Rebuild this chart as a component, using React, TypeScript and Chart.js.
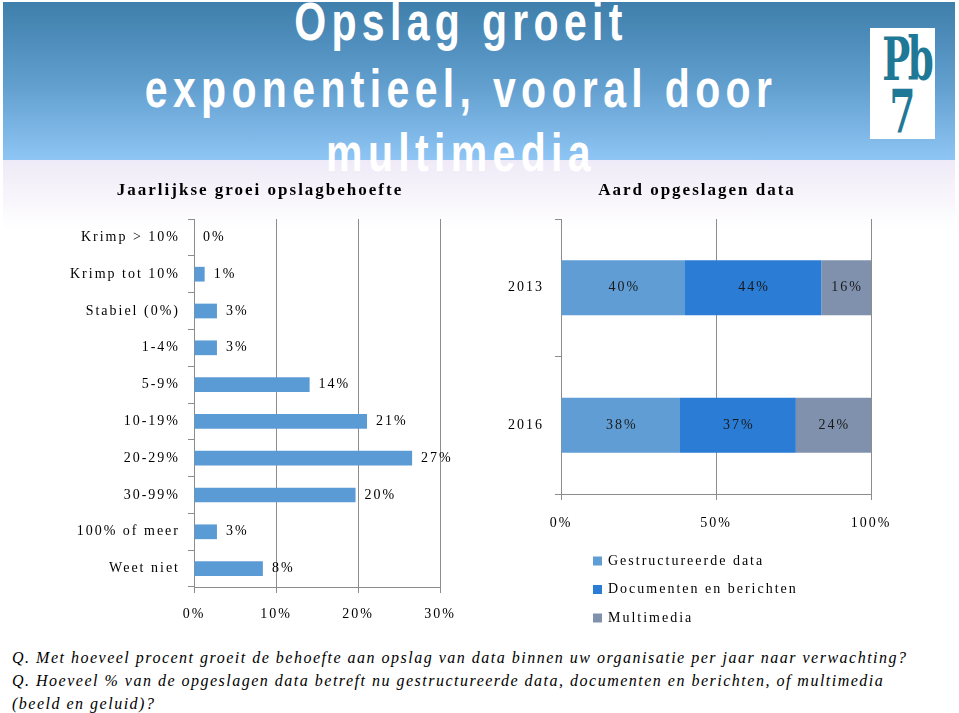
import React, { useEffect, useRef } from "react";
import { Chart, registerables } from "chart.js";

Chart.register(...registerables);

// ---------- Data: Jaarlijkse groei opslagbehoefte ----------
const growthCategories = [
  "Krimp > 10%",
  "Krimp tot 10%",
  "Stabiel (0%)",
  "1-4%",
  "5-9%",
  "10-19%",
  "20-29%",
  "30-99%",
  "100% of meer",
  "Weet niet",
];
const growthValues = [0, 1.3, 2.8, 2.8, 14.1, 21.1, 26.6, 19.7, 2.8, 8.4];
const growthTicks = [0, 10, 20, 30];

// ---------- Data: Aard opgeslagen data ----------
const dataYears = ["2013", "2016"];
const structuredData = [40, 38];
const documentsData = [44, 37];
const multimediaData = [16, 24];
const seriesNames = ["Gestructureerde data", "Documenten en berichten", "Multimedia"];
const shareTicks = [0, 50, 100];

const SERIF = "'Liberation Serif', 'Times New Roman', serif";
const SANS = "'Liberation Sans', Arial, sans-serif";
const GRID = "#8c8c8c";
const SERIES_COLORS = ["#5f9dd4", "#2a7cd4", "#8091ad"];

const rawSeries = [structuredData, documentsData, multimediaData];
const yearTotals = dataYears.map((_, i) => rawSeries.reduce((s, arr) => s + arr[i], 0));
const toShare = (arr: number[]) => arr.map((v, i) => (v / yearTotals[i]) * 100);

const spacingPlugin = {
  id: "spacing",
  beforeUpdate(chart: any) {
    chart.ctx.letterSpacing = "2px";
  },
  beforeDraw(chart: any) {
    chart.ctx.letterSpacing = "2px";
  },
};

// centre the title over the whole canvas (not the padded area)
const titleCenterPlugin = {
  id: "titleCenter",
  afterLayout(chart: any) {
    const tb = chart.titleBlock;
    if (tb) {
      tb.left = 0;
      tb.right = chart.width;
      tb.width = chart.width;
    }
  },
};

const endLabelPlugin = {
  id: "endLabels",
  afterDatasetsDraw(chart: any) {
    const ctx = chart.ctx;
    ctx.save();
    ctx.font = `14px ${SERIF}`;
    ctx.fillStyle = "#000";
    ctx.textAlign = "left";
    ctx.textBaseline = "middle";
    const ds = chart.data.datasets[0];
    chart.getDatasetMeta(0).data.forEach((bar: any, i: number) => {
      ctx.fillText(Math.round(ds.data[i]) + "%", bar.x + 9, bar.y);
    });
    ctx.restore();
  },
};

const centerLabelPlugin = {
  id: "centerLabels",
  afterDatasetsDraw(chart: any) {
    const ctx = chart.ctx;
    ctx.save();
    ctx.font = `14px ${SERIF}`;
    ctx.fillStyle = "#1a1a1a";
    ctx.textAlign = "center";
    ctx.textBaseline = "middle";
    chart.data.datasets.forEach((ds: any, di: number) => {
      chart.getDatasetMeta(di).data.forEach((bar: any, i: number) => {
        ctx.fillText(ds.rawValues[i] + "%", (bar.x + bar.base) / 2 + 1, bar.y);
      });
    });
    ctx.restore();
  },
};

const listLegendPlugin = {
  id: "listLegend",
  afterDraw(chart: any) {
    const { ctx, chartArea } = chart;
    ctx.save();
    ctx.font = `14px ${SERIF}`;
    ctx.textAlign = "left";
    ctx.textBaseline = "middle";
    chart.data.datasets.forEach((ds: any, i: number) => {
      const x = chartArea.left + 32;
      const y = chartArea.bottom + 67 + i * 28.5;
      ctx.fillStyle = ds.backgroundColor;
      ctx.fillRect(x, y - 4.5, 9, 9);
      ctx.fillStyle = "#000";
      ctx.fillText(ds.label, x + 15, y);
    });
    ctx.restore();
  },
};

const tickFont = { family: SERIF, size: 14 };
const titleFont = { family: SERIF, size: 17, weight: "bold" as const };

function leftConfig(): any {
  return {
    type: "bar",
    data: {
      labels: growthCategories,
      datasets: [
        {
          data: growthValues,
          backgroundColor: "#5b9bd5",
          categoryPercentage: 1,
          barPercentage: 0.4,
        },
      ],
    },
    options: {
      indexAxis: "y",
      responsive: false,
      animation: false,
      layout: { padding: { left: 0, right: 40, top: 0, bottom: 0 } },
      plugins: {
        legend: { display: false },
        tooltip: { enabled: false },
        title: {
          display: true,
          text: "Jaarlijkse groei opslagbehoefte",
          color: "#000",
          font: titleFont,
          padding: { top: 10, bottom: 18.6 },
        },
      },
      scales: {
        x: {
          min: 0,
          max: 30,
          afterBuildTicks: (s: any) => {
            s.ticks = growthTicks.map((v) => ({ value: v }));
          },
          afterFit: (s: any) => {
            s.height = 40;
          },
          grid: { color: GRID, tickLength: 6 },
          border: { color: GRID },
          ticks: { color: "#000", font: tickFont, padding: 13, callback: (v: any) => v + "%" },
        },
        y: {
          afterFit: (s: any) => {
            s.width = 154;
          },
          grid: { drawOnChartArea: false, color: GRID, tickLength: 6, offset: true },
          border: { color: GRID },
          ticks: { color: "#000", font: tickFont, padding: 8 },
        },
      },
    },
    plugins: [spacingPlugin, titleCenterPlugin, endLabelPlugin],
  };
}

function rightConfig(): any {
  return {
    type: "bar",
    data: {
      labels: dataYears,
      datasets: rawSeries.map((arr, i) => ({
        label: seriesNames[i],
        data: toShare(arr),
        rawValues: arr,
        backgroundColor: SERIES_COLORS[i],
        categoryPercentage: 1,
        barPercentage: 0.4,
      })),
    },
    options: {
      indexAxis: "y",
      responsive: false,
      animation: false,
      layout: { padding: { left: 0, right: 43, top: 0, bottom: 98 } },
      plugins: {
        legend: { display: false },
        tooltip: { enabled: false },
        title: {
          display: true,
          text: "Aard opgeslagen data",
          color: "#000",
          font: titleFont,
          padding: { top: 10, bottom: 18.6 },
        },
      },
      scales: {
        x: {
          stacked: true,
          min: 0,
          max: 100,
          afterBuildTicks: (s: any) => {
            s.ticks = shareTicks.map((v) => ({ value: v }));
          },
          afterFit: (s: any) => {
            s.height = 40;
          },
          grid: { color: GRID, tickLength: 6 },
          border: { color: GRID },
          ticks: { color: "#000", font: tickFont, padding: 15, callback: (v: any) => v + "%" },
        },
        y: {
          stacked: true,
          afterFit: (s: any) => {
            s.width = 81;
          },
          grid: { drawOnChartArea: false, color: GRID, tickLength: 6, offset: true },
          border: { color: GRID },
          ticks: { color: "#000", font: tickFont, padding: 11 },
        },
      },
    },
    plugins: [spacingPlugin, titleCenterPlugin, centerLabelPlugin, listLegendPlugin],
  };
}

export default function App() {
  const leftRef = useRef<HTMLCanvasElement>(null);
  const rightRef = useRef<HTMLCanvasElement>(null);

  useEffect(() => {
    const c1 = new Chart(leftRef.current as HTMLCanvasElement, leftConfig());
    const c2 = new Chart(rightRef.current as HTMLCanvasElement, rightConfig());
    return () => {
      c1.destroy();
      c2.destroy();
    };
  }, []);

  const titleLine: React.CSSProperties = {
    position: "absolute",
    left: 0,
    width: 922,
    textAlign: "center",
    fontFamily: SANS,
    fontWeight: "bold",
    fontSize: 54,
    lineHeight: "65px",
    color: "#fff",
    letterSpacing: "7px",
    whiteSpace: "nowrap",
    transform: "scaleX(0.76)",
    transformOrigin: "461px 0",
  };

  const footLine: React.CSSProperties = {
    position: "absolute",
    left: 12,
    fontFamily: SERIF,
    fontStyle: "italic",
    fontSize: 16,
    lineHeight: "23px",
    letterSpacing: "1.5px",
    color: "#000",
    whiteSpace: "nowrap",
  };

  return (
    <div
      style={{
        position: "fixed",
        left: 0,
        top: 0,
        width: 959,
        height: 713,
        background: "#fff",
        overflow: "hidden",
      }}
    >
      <div
        style={{
          position: "absolute",
          left: 3,
          top: 2,
          width: 952,
          height: 158,
          background: "linear-gradient(180deg, #3f7fab 0%, #5f9dcd 50%, #8ec5f4 100%)",
        }}
      />
      <div
        style={{
          position: "absolute",
          left: 3,
          top: 160,
          width: 952,
          height: 70,
          background: "linear-gradient(180deg, #efeaf7 0%, #ffffff 100%)",
        }}
      />
      <div style={{ ...titleLine, top: -11 }}>Opslag groeit</div>
      <div style={{ ...titleLine, top: 56 }}>exponentieel, vooral door</div>
      <div style={{ ...titleLine, top: 120 }}>multimedia</div>

      <div
        style={{
          position: "absolute",
          left: 870,
          top: 28,
          width: 65,
          height: 111,
          background: "#fff",
          color: "#1f7896",
          fontFamily: "'DejaVu Serif', serif",
          fontWeight: "bold",
          textAlign: "center",
        }}
      >
        <div
          style={{
            position: "absolute",
            left: 0,
            width: 65,
            top: 0,
            fontSize: 60,
            lineHeight: "62px",
            letterSpacing: "-4px",
            transform: "scaleX(0.62)",
          }}
        >
          Pb
        </div>
        <div
          style={{
            position: "absolute",
            left: 0,
            width: 65,
            top: 52,
            fontSize: 60,
            lineHeight: "62px",
            transform: "scaleX(0.62)",
          }}
        >
          7
        </div>
      </div>

      <canvas
        ref={leftRef}
        width={440}
        height={457}
        style={{ position: "absolute", left: 40, top: 170, width: 440, height: 457 }}
      />
      <canvas
        ref={rightRef}
        width={434}
        height={462}
        style={{ position: "absolute", left: 480, top: 170, width: 434, height: 462 }}
      />

      <div style={{ ...footLine, top: 646 }}>
        Q. Met hoeveel procent groeit de behoefte aan opslag van data binnen uw organisatie per jaar naar verwachting?
      </div>
      <div style={{ ...footLine, top: 669 }}>
        Q. Hoeveel % van de opgeslagen data betreft nu gestructureerde data, documenten en berichten, of multimedia
      </div>
      <div style={{ ...footLine, top: 692 }}>(beeld en geluid)?</div>
    </div>
  );
}
